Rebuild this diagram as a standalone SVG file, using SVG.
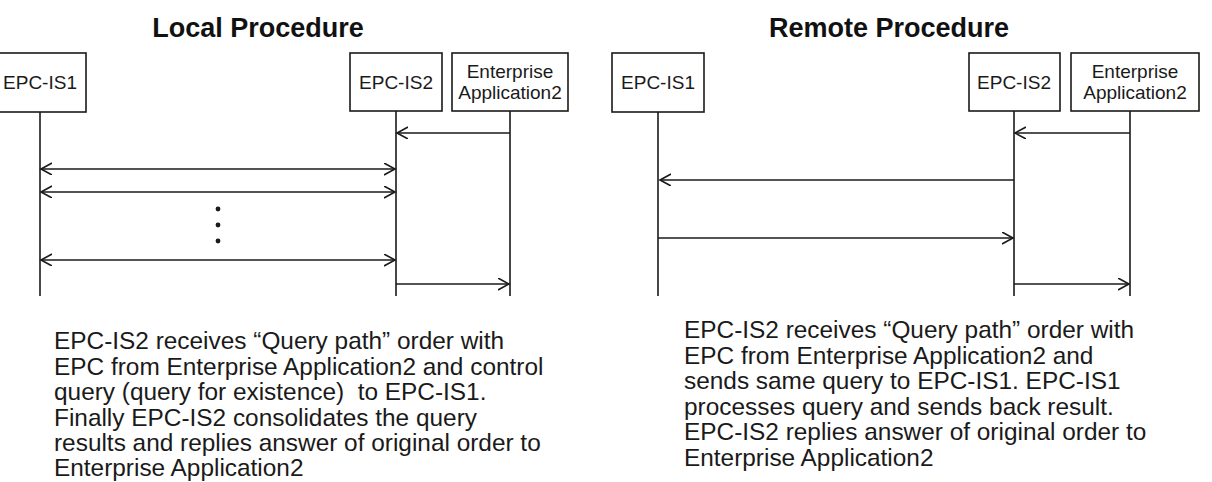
<svg xmlns="http://www.w3.org/2000/svg" width="1212" height="482" viewBox="0 0 1212 482">
<style>
.box{fill:#fff;stroke:#1a1a1a;stroke-width:1.6}
.life{stroke:#1a1a1a;stroke-width:1.6;fill:none}
.msg{stroke:#1a1a1a;stroke-width:1.6;fill:none;marker-end:url(#ah)}
.dbl{marker-start:url(#ah)}
.lbl{font-family:"Liberation Sans",Arial,sans-serif;font-size:19px;fill:#1a1a1a;text-anchor:middle}
.title{font-family:"Liberation Sans",Arial,sans-serif;font-size:27px;font-weight:bold;fill:#111;text-anchor:middle}
.body{font-family:"Liberation Sans",Arial,sans-serif;font-size:24.4px;fill:#1a1a1a}
.dot{fill:#1a1a1a}
</style>
<defs>
<marker id="ah" markerUnits="userSpaceOnUse" markerWidth="14" markerHeight="14" refX="11" refY="6" orient="auto-start-reverse">
<path d="M0,0 L11,6 L0,12" fill="none" stroke="#1a1a1a" stroke-width="1.6"/>
</marker>
</defs>
<rect width="1212" height="482" fill="#fff"/>

<text class="title" x="258" y="37">Local Procedure</text>
<text class="title" x="889" y="37">Remote Procedure</text>

<g id="local-epcis1">
<rect class="box" x="-1" y="53" width="87" height="59"/>
<text class="lbl" x="40" y="89">EPC-IS1</text>
<line class="life" x1="40" y1="112" x2="40" y2="296"/>
</g>
<g id="local-epcis2">
<rect class="box" x="350" y="53" width="92" height="58"/>
<text class="lbl" x="396" y="89">EPC-IS2</text>
<line class="life" x1="396" y1="111" x2="396" y2="296"/>
</g>
<g id="local-ea2">
<rect class="box" x="452" y="53" width="116" height="58"/>
<text class="lbl" x="510" y="78">Enterprise</text>
<text class="lbl" x="510" y="99">Application2</text>
<line class="life" x1="510" y1="111" x2="510" y2="296"/>
</g>

<g id="remote-epcis1">
<rect class="box" x="612" y="53" width="92" height="59"/>
<text class="lbl" x="658" y="89">EPC-IS1</text>
<line class="life" x1="658" y1="112" x2="658" y2="296"/>
</g>
<g id="remote-epcis2">
<rect class="box" x="969" y="53" width="91" height="58"/>
<text class="lbl" x="1014" y="89">EPC-IS2</text>
<line class="life" x1="1014" y1="111" x2="1014" y2="296"/>
</g>
<g id="remote-ea2">
<rect class="box" x="1071" y="53" width="128" height="58"/>
<text class="lbl" x="1135" y="78">Enterprise</text>
<text class="lbl" x="1135" y="99">Application2</text>
<line class="life" x1="1130" y1="111" x2="1130" y2="296"/>
</g>

<g id="connectors">
<line class="msg" x1="510" y1="133" x2="397" y2="133"/>
<line class="msg dbl" x1="41" y1="169" x2="395" y2="169"/>
<line class="msg dbl" x1="41" y1="192" x2="395" y2="192"/>
<line class="msg dbl" x1="41" y1="260" x2="395" y2="260"/>
<line class="msg" x1="396" y1="284" x2="509" y2="284"/>
<circle class="dot" cx="218" cy="209" r="2.4"/>
<circle class="dot" cx="218" cy="225" r="2.4"/>
<circle class="dot" cx="218" cy="241" r="2.4"/>

<line class="msg" x1="1130" y1="133" x2="1015" y2="133"/>
<line class="msg" x1="1014" y1="180" x2="660" y2="180"/>
<line class="msg" x1="658" y1="238" x2="1013" y2="238"/>
<line class="msg" x1="1014" y1="284" x2="1129" y2="284"/>
</g>

<g id="local-text">
<text class="body" x="54" y="349">EPC-IS2 receives “Query path” order with</text>
<text class="body" x="54" y="374.5">EPC from Enterprise Application2 and control</text>
<text class="body" x="54" y="400" xml:space="preserve">query (query for existence)  to EPC-IS1.</text>
<text class="body" x="54" y="425.5">Finally EPC-IS2 consolidates the query</text>
<text class="body" x="54" y="451">results and replies answer of original order to</text>
<text class="body" x="54" y="476">Enterprise Application2</text>
</g>
<g id="remote-text">
<text class="body" x="684" y="338">EPC-IS2 receives “Query path” order with</text>
<text class="body" x="684" y="363.5">EPC from Enterprise Application2 and</text>
<text class="body" x="684" y="389">sends same query to EPC-IS1. EPC-IS1</text>
<text class="body" x="684" y="414.5">processes query and sends back result.</text>
<text class="body" x="684" y="440">EPC-IS2 replies answer of original order to</text>
<text class="body" x="684" y="465.5">Enterprise Application2</text>
</g>
</svg>
